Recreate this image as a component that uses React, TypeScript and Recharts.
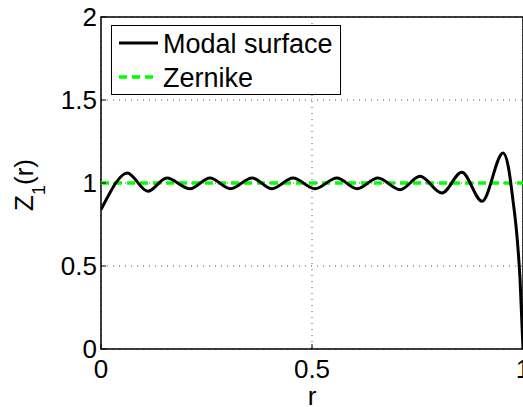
import React from 'react';
import { LineChart, Line, XAxis, YAxis, CartesianGrid, ReferenceArea, Legend, Label } from 'recharts';

const rValues = [0, 0.021, 0.035, 0.062, 0.111, 0.156, 0.211, 0.258, 0.307, 0.358, 0.405, 0.455, 0.507, 0.559, 0.607, 0.656, 0.709, 0.756, 0.808, 0.855, 0.903, 0.953, 0.965, 0.976, 0.985, 0.993, 1.0];
const modalValues = [0.84, 0.94, 1.0, 1.06, 0.95, 1.03, 0.965, 1.03, 0.965, 1.03, 0.965, 1.03, 0.965, 1.03, 0.965, 1.03, 0.96, 1.04, 0.94, 1.065, 0.89, 1.18, 1.1, 0.9, 0.7, 0.42, 0.0];
const zernikeR = [0, 1];
const zernikeValues = [1, 1];
const xTicks = [0, 0.5, 1];
const yTicks = [0, 0.5, 1, 1.5, 2];
const seriesNames = ['Modal surface', 'Zernike'];

const modalData = rValues.map((r, i) => ({ r, v: modalValues[i] }));
const zernikeData = zernikeR.map((r, i) => ({ r, v: zernikeValues[i] }));

const FONT = '"Liberation Sans", Arial, Helvetica, sans-serif';
const FS = 26;
const LFS = 27;

const renderLegend = () => (
  <div
    style={{
      width: 228,
      height: 68,
      border: '1.5px solid #000',
      background: '#fff',
      fontFamily: FONT,
      fontSize: LFS,
      color: '#000',
      position: 'relative',
    }}
  >
    <svg width={228} height={68} style={{ position: 'absolute', left: 0, top: 0 }}>
      <line x1={7} x2={46} y1={17} y2={17} stroke="#000" strokeWidth={3} />
      <line x1={7} x2={46} y1={51} y2={51} stroke="#00ff00" strokeWidth={3.5} strokeDasharray="8 5" />
      <text x={51} y={17} dy="0.36em" fontFamily={FONT} fontSize={LFS} fill="#000">{seriesNames[0]}</text>
      <text x={51} y={51} dy="0.36em" fontFamily={FONT} fontSize={LFS} fill="#000">{seriesNames[1]}</text>
    </svg>
  </div>
);

const YLabel = () => (
  <text
    transform="translate(33,185) rotate(-90)"
    x={0}
    y={0}
    textAnchor="middle"
    fontFamily={FONT}
    fontSize={FS}
    fill="#000"
  >
    Z
    <tspan fontSize={18} dy={12}>1</tspan>
    <tspan dy={-12}>(r)</tspan>
  </text>
);

export default function App() {
  return (
    <div style={{ position: 'fixed', left: 0, top: 0, width: 523, height: 407, overflow: 'hidden', background: '#fff' }}>
      <LineChart
        width={540}
        height={407}
        margin={{ top: 17, right: 17, bottom: 0, left: 0 }}
        style={{ fontFamily: FONT }}
      >
        <CartesianGrid
          stroke="#555"
          strokeDasharray="1 5"
          strokeWidth={1}
          horizontalValues={yTicks}
          verticalValues={xTicks}
        />
        <XAxis
          dataKey="r"
          type="number"
          domain={[0, 1]}
          ticks={xTicks}
          allowDataOverflow
          height={58}
          axisLine={false}
          tickSize={-5}
          tickMargin={16}
          tickLine={{ stroke: '#000', strokeWidth: 1 }}
          tick={{ fill: '#000', fontSize: FS, fontFamily: FONT }}
          interval={0}
        >
          <Label value="r" position="insideBottom" offset={2} fill="#000" fontSize={FS} fontFamily={FONT} />
        </XAxis>
        <XAxis
          xAxisId="top"
          orientation="top"
          type="number"
          domain={[0, 1]}
          ticks={xTicks}
          height={0}
          axisLine={false}
          tickSize={-5}
          tickLine={{ stroke: '#000', strokeWidth: 1 }}
          tick={() => <g />}
        />
        <YAxis
          type="number"
          domain={[0, 2]}
          ticks={yTicks}
          width={101}
          axisLine={false}
          tickSize={-5}
          tickMargin={9}
          tickLine={{ stroke: '#000', strokeWidth: 1 }}
          tick={{ fill: '#000', fontSize: FS, fontFamily: FONT }}
          interval={0}
          label={<YLabel />}
        />
        <YAxis
          yAxisId="right"
          orientation="right"
          type="number"
          domain={[0, 2]}
          ticks={yTicks}
          width={0}
          axisLine={false}
          tickSize={-5}
          tickLine={{ stroke: '#000', strokeWidth: 1 }}
          tick={() => <g />}
        />
        <ReferenceArea x1={0} x2={1} y1={0} y2={2} fill="none" stroke="#000" strokeWidth={1.5} ifOverflow="visible" />
        <Line
          data={zernikeData}
          dataKey="v"
          name={seriesNames[1]}
          type="linear"
          stroke="#00ff00"
          strokeWidth={3.5}
          strokeDasharray="8 5"
          dot={false}
          isAnimationActive={false}
        />
        <Line
          data={modalData}
          dataKey="v"
          name={seriesNames[0]}
          type="monotone"
          stroke="#000"
          strokeWidth={3}
          dot={false}
          isAnimationActive={false}
        />
        <Legend
          layout="vertical"
          align="center"
          verticalAlign="middle"
          wrapperStyle={{ left: 111, top: 25, width: 230, height: 70 }}
          content={renderLegend}
        />
      </LineChart>
    </div>
  );
}
